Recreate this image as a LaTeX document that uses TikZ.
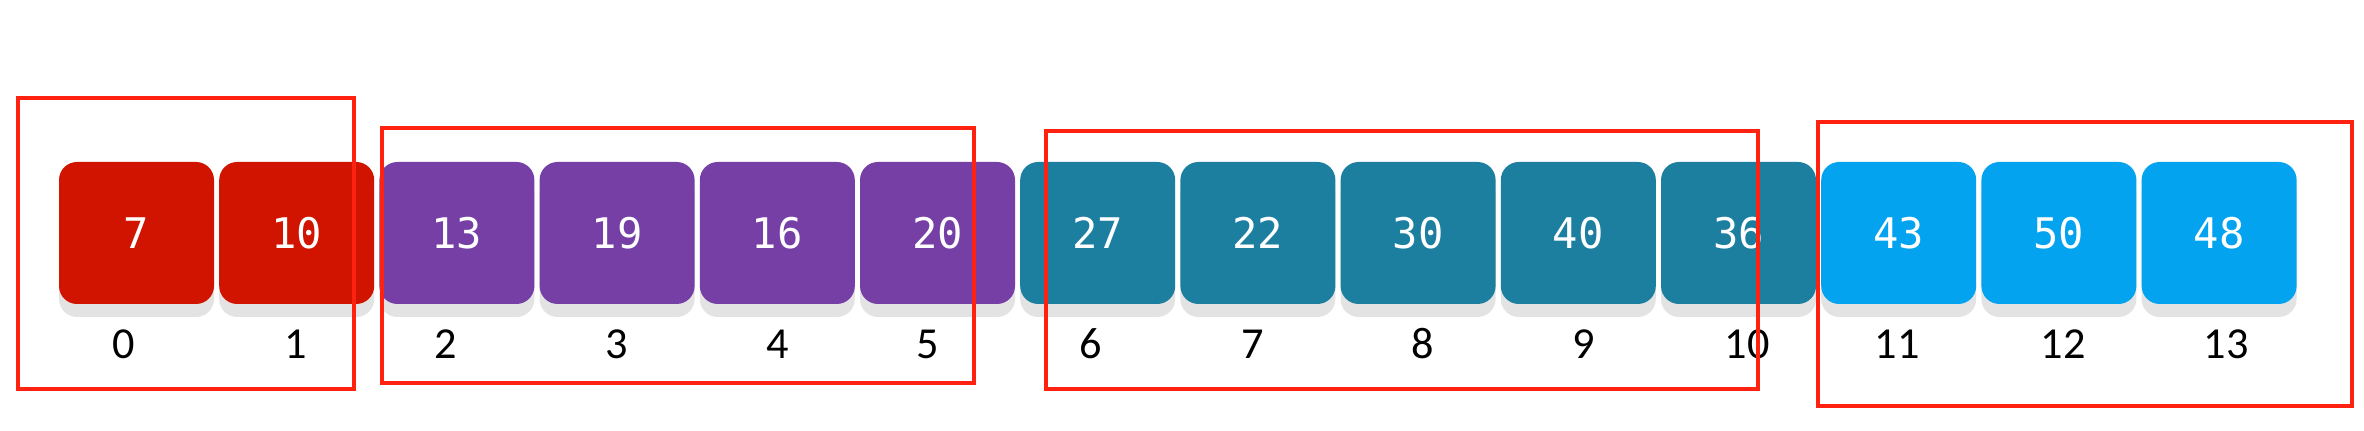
\documentclass[tikz,border=0pt]{standalone}
\usepackage{fontspec}
\setsansfont{Carlito}
\setmonofont{DejaVu Sans Mono}
\usetikzlibrary{positioning}
\definecolor{cred}{HTML}{D01400}
\definecolor{cpurple}{HTML}{763FA6}
\definecolor{cteal}{HTML}{1D7FA0}
\definecolor{cblue}{HTML}{03A3F0}
\definecolor{cshadow}{HTML}{E3E3E3}
\definecolor{cmark}{HTML}{FF2210}
\tikzset{
  cell/.style={fill=#1, rounded corners=0.18cm, minimum width=1.55cm, minimum height=1.42cm, inner sep=0pt,
    text=white, font=\ttfamily\fontsize{12}{14}\selectfont},
  cell/.default=cred,
  shade box/.style={fill=cshadow, rounded corners=0.18cm, minimum width=1.55cm, minimum height=1.42cm, inner sep=0pt},
  idx/.style={font=\sffamily\fontsize{12.6}{15}\selectfont, inner sep=0pt},
  group/.style={draw=cmark, line width=0.042cm},
}
\begin{document}
\begin{tikzpicture}
  \useasboundingbox[fill=white] (0,0) rectangle (23.64,4.31);
  % array cells with their index below
  \foreach \v/\c/\lx [count=\i from 0] in {7/cred/1.24, 10/cred/2.96, 13/cpurple/4.46, 19/cpurple/6.17,
      16/cpurple/7.78, 20/cpurple/9.28, 27/cteal/10.91, 22/cteal/12.53, 30/cteal/14.23, 40/cteal/15.84,
      36/cteal/17.47, 43/cblue/18.97, 50/cblue/20.63, 48/cblue/22.26} {
    \node[shade box] (s\i) at (1.365+1.602*\i, 1.85) {};
    \node[cell=\c] (c\i) at (1.365+1.602*\i, 1.98) {\v};
    \node[idx] (n\i) at (\lx, 0.87) {\i};
  }
  % hand drawn groups
  \draw[group] (0.18,0.42) rectangle (3.54,3.33);
  \draw[group] (3.82,0.48) rectangle (9.74,3.03);
  \draw[group] (10.46,0.42) rectangle (17.58,3.00);
  \draw[group] (18.18,0.25) rectangle (23.52,3.09);
\end{tikzpicture}
\end{document}
